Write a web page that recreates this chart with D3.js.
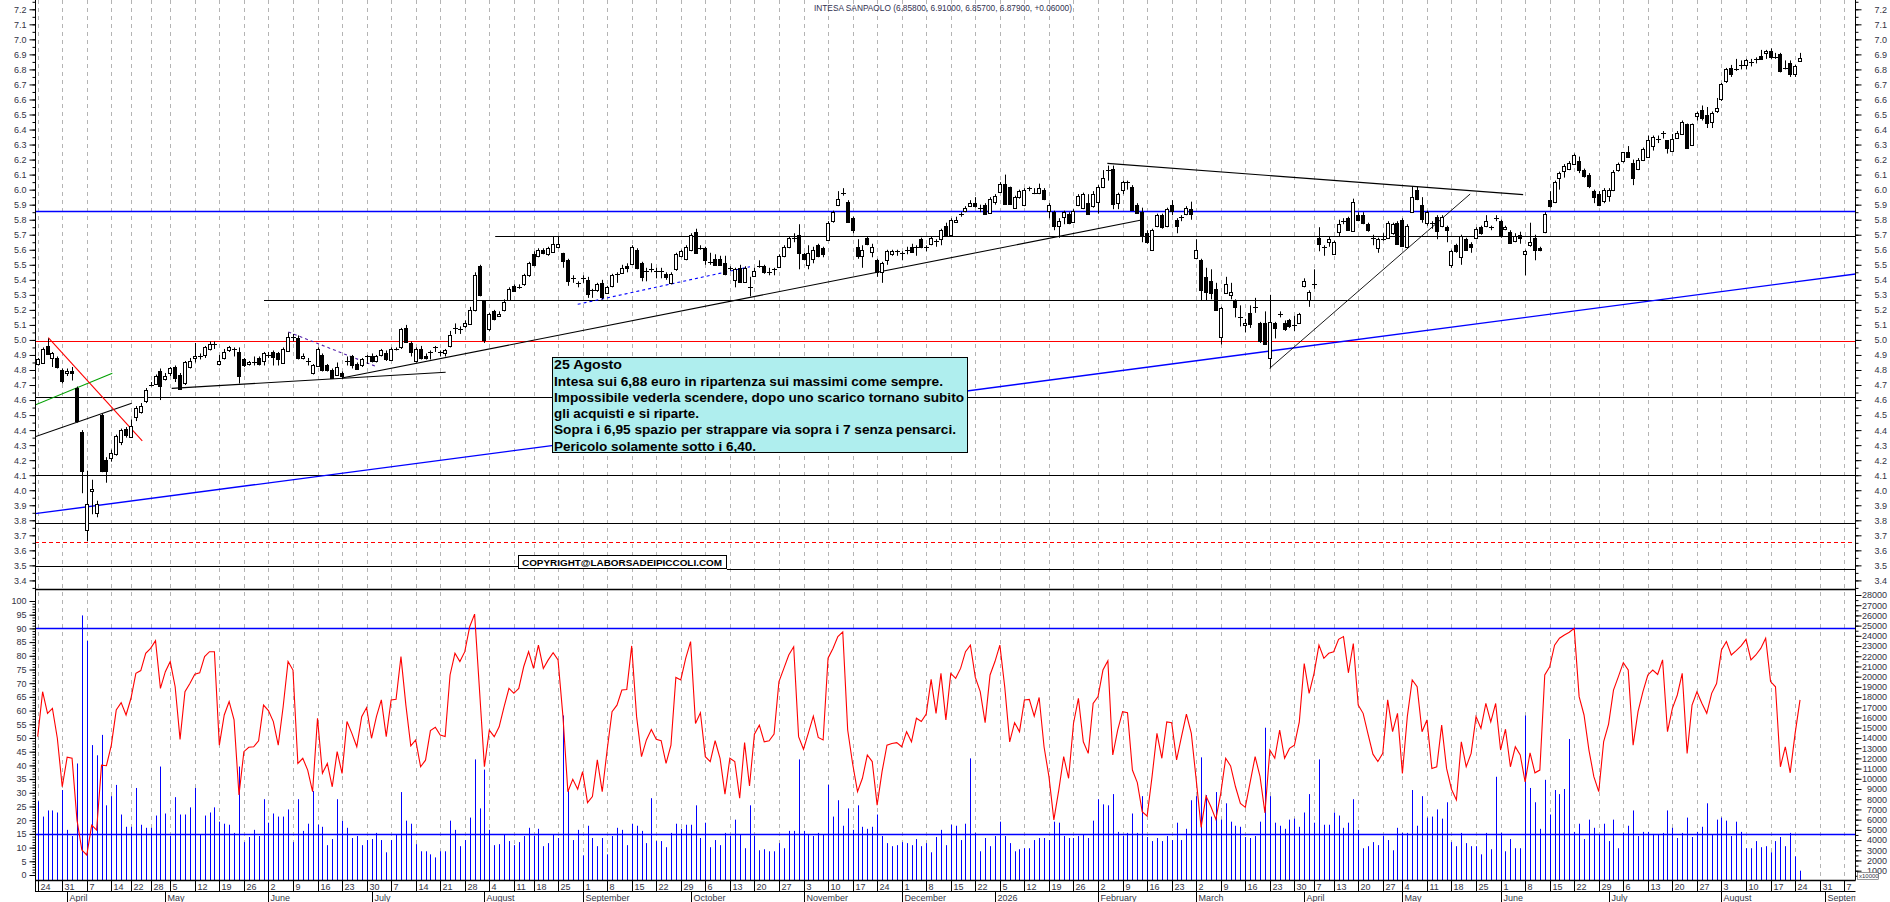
<!DOCTYPE html>
<html><head><meta charset="utf-8"><title>INTESA SANPAOLO</title>
<script src="https://cdn.jsdelivr.net/npm/d3@7/dist/d3.min.js"></script>
<style>html,body{margin:0;padding:0;background:#fff;}svg{display:block;}</style>
</head><body>
<svg id="chart" width="1890" height="902"></svg>
<script>
// ================= DATA =================
const firstDay = "2025-03-24";
const lastAxisDay = "2026-09-08";
const holidays = ["2025-04-18","2025-04-21","2025-05-01","2025-08-15","2025-12-24","2025-12-25","2025-12-26","2025-12-31","2026-01-01","2026-04-03","2026-04-06","2026-05-01"];
const monthNames = ["January","February","March","April","May","June","July","August","September","October","November","December"];
const priceTicks = [3.4,3.5,3.6,3.7,3.8,3.9,4.0,4.1,4.2,4.3,4.4,4.5,4.6,4.7,4.8,4.9,5.0,5.1,5.2,5.3,5.4,5.5,5.6,5.7,5.8,5.9,6.0,6.1,6.2,6.3,6.4,6.5,6.6,6.7,6.8,6.9,7.0,7.1,7.2];
const oscTicks = [0,5,10,15,20,25,30,35,40,45,50,55,60,65,70,75,80,85,90,95,100];
const volTicks = [1,2,3,4,5,6,7,8,9,10,11,12,13,14,15,16,17,18,19,20,21,22,23,24,25,26,27,28]; // x1000

const open = [
4.84,4.85,4.96,4.88,4.88,4.80,4.78,4.79,4.68,4.39,
3.74,4.00,3.85,4.50,4.20,4.22,4.24,4.32,4.41,4.36,
4.49,4.52,4.60,4.70,4.71,4.79,4.74,4.78,4.82,4.77,
4.71,4.82,4.88,4.89,4.90,4.94,4.97,4.84,4.88,4.93,
4.94,4.92,4.87,4.84,4.85,4.88,4.86,4.90,4.92,4.91,
4.85,4.93,5.02,5.01,4.88,4.86,4.78,4.83,4.90,4.83,
4.80,4.77,4.78,4.86,4.89,4.84,4.83,4.89,4.89,4.86,
4.90,4.91,4.87,4.94,4.95,5.08,4.98,4.86,4.94,4.89,
4.92,4.95,4.92,4.91,4.96,5.08,5.07,5.09,5.11,5.20,
5.49,5.26,5.07,5.19,5.16,5.20,5.27,5.36,5.35,5.37,
5.43,5.57,5.56,5.60,5.57,5.59,5.62,5.58,5.53,5.41,
5.38,5.41,5.40,5.33,5.33,5.38,5.31,5.36,5.44,5.45,
5.49,5.51,5.60,5.51,5.46,5.47,5.46,5.46,5.44,5.38,
5.47,5.56,5.54,5.60,5.72,5.61,5.61,5.52,5.54,5.54,
5.51,5.48,5.40,5.48,5.39,5.35,5.43,5.49,5.49,5.45,
5.47,5.49,5.56,5.62,5.68,5.70,5.57,5.50,5.54,5.63,
5.61,5.67,5.79,5.90,5.98,5.92,5.81,5.62,5.56,5.68,
5.59,5.53,5.45,5.53,5.57,5.59,5.58,5.60,5.62,5.62,
5.67,5.62,5.64,5.66,5.67,5.76,5.70,5.79,5.84,5.86,
5.89,5.91,5.88,5.90,5.85,5.92,5.99,6.04,6.02,5.88,
5.95,5.90,6.01,5.98,5.98,6.00,5.86,5.85,5.76,5.82,
5.84,5.79,5.90,5.88,5.91,5.89,5.92,6.02,6.13,6.14,
5.91,6.00,6.05,6.02,5.90,5.85,5.71,5.60,5.76,5.83,
5.76,5.90,5.80,5.82,5.84,5.87,5.55,5.53,5.42,5.39,
5.34,5.02,5.31,5.30,5.26,5.15,5.10,5.18,5.22,5.11,
5.11,4.88,5.11,5.17,5.11,5.13,5.10,5.11,5.36,5.27,
5.37,5.68,5.62,5.65,5.57,5.72,5.79,5.81,5.73,5.83,
5.83,5.77,5.68,5.61,5.67,5.68,5.71,5.78,5.80,5.62,
5.85,6.00,5.90,5.78,5.78,5.82,5.76,5.75,5.50,5.63,
5.55,5.67,5.64,5.68,5.75,5.76,5.75,5.81,5.79,5.74,
5.72,5.66,5.70,5.57,5.63,5.68,5.61,5.72,5.93,5.92,
6.08,6.13,6.14,6.17,6.19,6.13,6.10,5.99,5.97,5.93,
5.96,6.00,6.13,6.19,6.25,6.18,6.14,6.20,6.22,6.29,
6.34,6.38,6.33,6.26,6.35,6.37,6.44,6.30,6.49,6.53,
6.50,6.45,6.52,6.60,6.72,6.81,6.80,6.83,6.83,6.85,
6.87,6.89,6.91,6.92,6.88,6.90,6.81,6.84,6.77,6.858];
const high = [
4.88,4.95,5.01,4.92,4.89,4.81,4.81,4.82,4.69,4.40,
4.13,4.07,3.93,4.51,4.22,4.27,4.37,4.41,4.42,4.47,
4.56,4.58,4.68,4.72,4.77,4.81,4.78,4.82,4.83,4.78,
4.86,4.88,4.98,4.91,4.96,4.99,4.99,4.90,4.94,4.96,
4.95,4.95,4.88,4.86,4.89,4.89,4.92,4.92,4.93,4.92,
4.95,5.05,5.04,5.03,4.91,4.88,4.84,4.95,4.91,4.84,
4.81,4.85,4.79,4.89,4.90,4.85,4.88,4.90,4.91,4.90,
4.94,4.93,4.95,4.95,5.08,5.10,4.99,4.95,4.96,4.91,
4.93,4.96,4.93,4.94,5.06,5.11,5.09,5.13,5.22,5.45,
5.50,5.26,5.18,5.20,5.19,5.27,5.35,5.37,5.37,5.44,
5.52,5.59,5.61,5.61,5.62,5.69,5.69,5.58,5.54,5.43,
5.39,5.43,5.42,5.34,5.38,5.40,5.36,5.44,5.45,5.50,
5.51,5.63,5.61,5.52,5.48,5.51,5.48,5.48,5.45,5.45,
5.58,5.60,5.63,5.71,5.74,5.63,5.62,5.58,5.57,5.56,
5.56,5.49,5.48,5.50,5.49,5.42,5.48,5.53,5.50,5.48,
5.48,5.57,5.63,5.69,5.71,5.77,5.58,5.63,5.62,5.64,
5.62,5.79,5.86,5.99,6.01,5.93,5.82,5.67,5.63,5.69,
5.64,5.54,5.52,5.60,5.60,5.60,5.59,5.62,5.64,5.63,
5.68,5.63,5.69,5.67,5.74,5.78,5.81,5.82,5.85,5.89,
5.93,5.95,5.90,5.91,5.95,5.97,6.05,6.10,6.02,5.96,
6.00,6.01,6.02,6.01,6.04,6.01,5.91,5.86,5.81,5.86,
5.85,5.87,5.97,5.98,5.97,5.99,6.03,6.13,6.16,6.16,
5.98,6.06,6.06,6.03,5.91,5.88,5.73,5.74,5.84,5.84,
5.88,5.93,5.81,5.83,5.89,5.92,5.67,5.54,5.48,5.47,
5.38,5.22,5.42,5.38,5.27,5.23,5.14,5.23,5.28,5.12,
5.19,5.30,5.12,5.19,5.13,5.14,5.16,5.18,5.41,5.33,
5.47,5.75,5.63,5.69,5.66,5.80,5.81,5.82,5.94,5.85,
5.85,5.78,5.70,5.68,5.71,5.79,5.78,5.79,5.81,5.77,
6.02,6.02,5.95,5.86,5.79,5.83,5.83,5.76,5.60,5.64,
5.70,5.68,5.65,5.75,5.76,5.83,5.76,5.83,5.80,5.76,
5.73,5.71,5.72,5.60,5.78,5.70,5.62,5.85,5.99,6.06,
6.12,6.17,6.19,6.24,6.22,6.14,6.11,6.00,5.99,6.01,
6.01,6.13,6.18,6.25,6.29,6.20,6.21,6.28,6.36,6.36,
6.36,6.39,6.33,6.37,6.39,6.46,6.44,6.44,6.52,6.56,
6.55,6.52,6.61,6.71,6.81,6.83,6.87,6.86,6.87,6.87,
6.88,6.93,6.93,6.94,6.91,6.91,6.86,6.86,6.83,6.91];
const low = [
4.83,4.84,4.90,4.82,4.81,4.71,4.76,4.73,4.45,3.98,
3.66,3.84,3.82,4.12,4.05,4.19,4.23,4.30,4.35,4.35,
4.46,4.51,4.58,4.69,4.71,4.60,4.73,4.76,4.72,4.67,
4.70,4.81,4.85,4.87,4.88,4.93,4.94,4.83,4.87,4.92,
4.89,4.71,4.82,4.83,4.83,4.83,4.83,4.88,4.83,4.83,
4.84,4.92,4.99,4.87,4.87,4.83,4.77,4.82,4.79,4.79,
4.74,4.76,4.74,4.83,4.81,4.80,4.82,4.84,4.85,4.85,
4.89,4.86,4.86,4.93,4.94,4.98,4.89,4.85,4.87,4.87,
4.87,4.92,4.89,4.89,4.95,5.04,5.04,5.08,5.10,5.19,
5.29,4.98,5.06,5.13,5.16,5.19,5.26,5.32,5.34,5.36,
5.42,5.49,5.55,5.57,5.56,5.58,5.61,5.48,5.36,5.38,
5.35,5.38,5.28,5.28,5.32,5.27,5.31,5.35,5.38,5.44,
5.45,5.50,5.47,5.39,5.39,5.45,5.41,5.41,5.40,5.37,
5.46,5.55,5.53,5.59,5.58,5.60,5.50,5.50,5.50,5.50,
5.43,5.46,5.35,5.38,5.38,5.29,5.42,5.48,5.44,5.43,
5.43,5.48,5.55,5.61,5.65,5.47,5.53,5.47,5.51,5.55,
5.55,5.66,5.78,5.89,5.96,5.78,5.71,5.54,5.48,5.63,
5.55,5.42,5.38,5.50,5.56,5.56,5.53,5.57,5.58,5.56,
5.61,5.59,5.63,5.62,5.63,5.69,5.69,5.78,5.82,5.85,
5.89,5.88,5.85,5.84,5.84,5.90,5.98,5.91,5.90,5.88,
5.94,5.89,5.99,5.97,5.97,5.93,5.81,5.73,5.68,5.77,
5.77,5.78,5.89,5.87,5.84,5.88,5.84,6.01,6.06,5.87,
5.87,5.97,6.00,5.86,5.84,5.65,5.64,5.60,5.75,5.74,
5.75,5.83,5.71,5.79,5.83,5.80,5.55,5.26,5.26,5.27,
5.20,4.97,5.31,5.27,5.15,5.09,5.05,5.08,5.18,4.98,
4.97,4.81,5.01,5.15,5.06,5.08,5.06,5.11,5.35,5.22,
5.34,5.59,5.56,5.62,5.57,5.69,5.77,5.73,5.73,5.79,
5.77,5.72,5.63,5.58,5.66,5.68,5.70,5.64,5.62,5.62,
5.85,5.93,5.78,5.76,5.74,5.67,5.75,5.65,5.48,5.58,
5.50,5.60,5.58,5.67,5.70,5.75,5.73,5.79,5.68,5.73,
5.65,5.65,5.64,5.43,5.62,5.53,5.59,5.71,5.88,5.91,
6.00,6.08,6.13,6.17,6.11,6.08,6.01,5.91,5.89,5.91,
5.92,5.99,6.12,6.18,6.22,6.03,6.13,6.19,6.22,6.26,
6.31,6.34,6.24,6.26,6.34,6.37,6.28,6.30,6.46,6.46,
6.41,6.41,6.51,6.59,6.71,6.75,6.79,6.80,6.80,6.82,
6.84,6.87,6.87,6.87,6.87,6.78,6.80,6.75,6.75,6.857];
const close = [
4.87,4.94,4.91,4.91,4.82,4.73,4.79,4.78,4.46,4.13,
3.91,4.01,3.91,4.13,4.13,4.25,4.36,4.40,4.37,4.43,
4.55,4.56,4.67,4.70,4.76,4.69,4.76,4.81,4.75,4.68,
4.85,4.86,4.89,4.89,4.95,4.97,4.97,4.86,4.92,4.95,
4.94,4.76,4.83,4.85,4.85,4.84,4.91,4.90,4.89,4.87,
4.94,5.02,5.02,4.88,4.89,4.86,4.83,4.94,4.80,4.80,
4.75,4.82,4.76,4.86,4.83,4.81,4.87,4.89,4.86,4.89,
4.93,4.87,4.94,4.94,5.07,4.99,4.92,4.94,4.88,4.88,
4.92,4.95,4.92,4.93,5.03,5.08,5.07,5.11,5.20,5.43,
5.30,5.00,5.17,5.14,5.17,5.25,5.34,5.33,5.35,5.43,
5.51,5.50,5.60,5.58,5.61,5.64,5.64,5.53,5.39,5.41,
5.38,5.41,5.31,5.33,5.37,5.29,5.35,5.43,5.44,5.48,
5.48,5.62,5.48,5.42,5.46,5.47,5.46,5.46,5.42,5.44,
5.57,5.59,5.62,5.70,5.58,5.61,5.53,5.52,5.50,5.50,
5.44,5.48,5.47,5.39,5.48,5.35,5.46,5.49,5.45,5.45,
5.47,5.56,5.62,5.68,5.68,5.58,5.54,5.58,5.60,5.56,
5.57,5.78,5.85,5.94,5.98,5.79,5.73,5.56,5.60,5.64,
5.62,5.45,5.51,5.59,5.59,5.59,5.58,5.60,5.59,5.62,
5.62,5.62,5.68,5.66,5.73,5.70,5.80,5.80,5.84,5.88,
5.91,5.89,5.88,5.84,5.94,5.96,6.04,5.91,5.91,5.95,
5.99,6.00,6.01,5.98,6.01,5.94,5.90,5.76,5.79,5.85,
5.78,5.86,5.96,5.97,5.84,5.97,6.02,6.08,6.13,5.91,
5.97,6.05,6.05,5.87,5.85,5.70,5.65,5.73,5.83,5.75,
5.87,5.86,5.76,5.82,5.88,5.84,5.60,5.33,5.32,5.31,
5.20,5.21,5.37,5.32,5.22,5.15,5.11,5.11,5.22,4.99,
4.97,5.12,5.08,5.17,5.07,5.09,5.10,5.17,5.39,5.32,
5.37,5.64,5.62,5.67,5.65,5.77,5.79,5.73,5.92,5.80,
5.78,5.73,5.68,5.67,5.67,5.78,5.77,5.64,5.63,5.76,
5.95,5.94,5.81,5.85,5.78,5.73,5.82,5.73,5.59,5.59,
5.69,5.60,5.62,5.74,5.71,5.79,5.75,5.81,5.70,5.75,
5.65,5.69,5.68,5.59,5.65,5.60,5.60,5.84,5.89,6.05,
6.11,6.16,6.18,6.23,6.13,6.09,6.03,5.95,5.90,6.00,
6.00,6.12,6.17,6.25,6.22,6.08,6.20,6.27,6.33,6.35,
6.34,6.38,6.28,6.34,6.38,6.45,6.28,6.44,6.51,6.48,
6.45,6.51,6.54,6.70,6.80,6.77,6.80,6.83,6.86,6.85,
6.87,6.87,6.92,6.88,6.88,6.79,6.81,6.77,6.82,6.879];
const osc = [
50.5,66.9,59.0,60.8,49.9,32.2,43.0,42.6,20.1,9.1,
7.3,18.2,16.4,40.1,39.9,47.4,60.2,62.9,58.4,64.5,
73.6,74.6,80.9,82.7,85.5,68.1,74.2,77.9,68.7,49.5,
66.9,69.9,73.3,73.8,79.7,81.5,81.5,47.4,58.4,63.3,
56.6,29.2,45.0,46.6,46.8,49.0,62.0,60.0,56.0,47.4,
61.4,77.9,74.8,40.7,42.6,38.3,30.4,57.2,37.1,40.7,
32.2,45.0,37.1,56.0,51.7,46.8,57.8,61.1,49.9,57.8,
63.9,50.5,63.9,64.1,79.7,62.0,47.1,49.3,39.5,41.9,
52.7,53.9,51.1,50.5,73.0,80.9,77.9,81.5,90.6,95.2,
67.5,39.5,52.9,50.5,54.1,61.4,68.1,66.3,68.1,76.0,
81.5,75.4,83.9,75.4,78.5,81.1,78.5,57.8,30.4,34.9,
31.3,37.7,26.4,28.6,42.0,30.4,45.6,59.6,62.0,67.5,
67.7,83.6,57.8,43.2,49.3,53.1,49.5,49.0,40.7,47.4,
72.1,71.2,79.1,85.2,55.3,59.2,43.2,41.4,49.0,42.6,
29.5,42.6,41.4,28.0,48.3,32.5,51.4,54.7,48.6,49.0,
51.4,70.6,75.4,80.3,83.3,50.5,45.9,51.9,58.0,50.2,
49.3,79.1,82.7,87.0,88.7,52.9,40.7,30.4,35.3,43.8,
41.4,25.5,37.7,47.4,48.0,48.3,46.8,52.3,48.6,57.2,
56.0,58.7,71.4,59.0,73.6,56.6,73.6,71.8,75.4,81.5,
83.9,72.1,66.9,55.6,73.0,77.9,83.9,68.5,48.6,55.6,
52.3,63.9,64.1,58.0,64.8,46.8,35.9,20.1,31.0,43.2,
35.3,55.3,64.5,48.6,44.4,62.6,65.1,74.8,78.2,43.8,
52.9,59.6,59.2,38.3,33.7,23.1,21.5,35.9,51.7,42.6,
55.9,55.6,42.0,50.5,58.7,51.7,34.7,17.4,28.8,24.9,
20.3,29.8,42.6,39.8,32.2,26.1,24.7,34.0,43.2,35.9,
22.7,45.6,42.6,52.9,42.6,46.2,47.4,55.9,77.2,66.3,
73.6,83.9,79.1,80.9,81.5,86.0,87.0,73.8,84.5,62.0,
59.0,51.4,44.1,41.4,44.4,63.9,52.3,59.0,37.1,57.8,
71.2,68.7,52.3,56.6,38.9,39.5,54.7,38.9,31.3,27.4,
48.6,39.5,44.4,57.8,53.5,62.6,55.9,62.6,45.6,53.2,
39.5,46.8,43.8,34.0,44.6,37.3,38.3,73.0,76.0,83.9,
86.4,87.6,88.6,90.0,65.1,58.4,45.6,35.9,30.4,48.7,
55.1,67.5,72.4,77.5,74.8,47.4,59.6,66.9,73.0,74.8,
73.2,78.5,52.3,60.8,65.7,73.6,44.4,62.0,66.9,62.7,
59.0,66.3,69.9,82.1,85.2,80.3,81.9,83.6,86.0,78.5,
80.3,82.7,86.4,70.6,68.7,39.5,46.8,37.3,51.7,63.9];
const volume = [ // in thousands (right axis, x10000)
7.8,6.3,6.9,6.9,6.7,8.9,5.0,4.4,11.5,26.0,
23.5,13.3,12.3,14.3,7.4,8.3,9.4,6.5,5.3,5.3,
9.1,5.5,5.2,5.2,6.4,11.2,6.6,4.4,8.2,6.5,
6.5,7.2,9.1,4.5,6.4,6.7,7.2,5.8,5.6,5.5,
4.7,11.2,3.8,4.3,5.0,4.4,8.0,5.7,6.6,6.3,
6.3,7.0,3.8,8.0,4.9,5.6,8.8,5.5,5.3,3.5,
4.1,8.0,5.9,5.2,4.2,4.4,3.5,4.0,4.1,4.7,
4.0,2.8,4.0,4.5,8.7,5.9,5.6,3.6,2.9,2.9,
2.6,2.3,2.9,2.9,5.9,5.0,3.4,4.0,6.2,11.9,
7.1,10.9,5.0,3.5,3.6,4.5,3.9,3.5,3.8,4.4,
5.2,4.4,5.1,3.4,3.7,4.5,4.2,16.2,8.8,4.0,
5.0,2.5,5.4,4.2,3.4,4.2,2.6,4.4,5.2,5.0,
3.5,5.6,5.4,4.9,3.7,8.1,3.9,3.9,3.3,4.7,
5.6,5.1,5.5,5.5,7.4,4.2,5.7,3.3,4.0,3.5,
4.7,4.4,6.0,4.5,3.2,7.4,4.4,3.0,3.1,2.9,
2.9,3.7,3.2,4.9,4.9,11.9,4.9,4.5,4.4,4.7,
4.5,9.4,6.3,7.9,5.4,7.1,5.0,7.4,5.3,5.1,
5.3,6.5,4.4,3.7,3.4,3.5,3.8,3.7,3.5,4.1,
3.4,3.7,2.8,4.3,5.0,3.5,5.5,5.4,4.0,5.6,
12.0,4.7,2.9,4.2,3.4,4.4,5.8,4.4,3.7,2.9,
3.1,3.2,3.2,4.0,4.2,4.2,4.0,5.8,5.7,4.4,
4.2,4.2,4.4,4.5,4.2,5.9,8.0,7.5,7.4,8.5,
4.8,4.4,4.7,6.6,4.7,8.3,4.3,3.9,4.2,3.9,
4.4,4.0,5.7,4.0,5.1,7.9,8.3,12.1,8.4,6.3,
8.7,6.0,7.6,5.8,5.4,5.3,4.3,4.2,4.4,5.8,
15.0,8.3,5.7,5.4,5.1,6.0,6.1,5.3,6.7,8.5,
5.7,11.9,5.5,5.5,6.7,6.4,5.2,5.7,8.0,5.0,
3.2,3.4,3.8,3.5,4.4,4.0,3.0,5.2,4.7,4.7,
8.9,5.4,8.3,6.2,6.3,7.0,6.1,7.7,3.8,3.4,
4.7,3.7,3.4,3.4,2.6,4.7,3.1,10.2,4.7,2.9,
4.1,3.2,3.2,16.2,9.1,7.7,5.1,9.9,6.5,8.9,
8.5,9.0,13.9,4.8,5.6,4.1,6.0,5.2,4.5,5.6,
3.9,6.0,3.2,4.7,5.4,6.9,4.4,4.8,4.8,4.6,
4.5,4.7,6.9,5.2,4.2,4.7,6.2,4.3,4.8,5.3,
7.6,4.5,6.0,6.2,5.9,4.4,5.8,4.8,3.2,3.2,
3.9,3.3,3.4,2.8,3.9,4.3,3.4,4.7,2.4,1.0];

// horizontal levels: [price, fromIndex, toIndex]
const levelLines = [
 [4.996,-0.55,370.3],[5.861,-0.55,370.3],[5.69,93.2,370.3],[5.264,46.1,370.3],
 [4.618,-0.55,370.3],[4.102,-0.55,370.3],[3.780,-0.55,370.3],[3.654,-0.55,370.3],
 [3.497,-0.55,97.9],[3.474,140.4,370.3]];
const levelStyle = ["red","blue","black","black","black","black","black","reddash","black","black"];
// trend lines: [i0, p0, i1, p1]
const trendLines = [
 [-0.55,3.844,370.3,5.439],
 [-0.55,4.356,19.15,4.579],
 [-0.55,4.567,15.2,4.778],
 [2.16,5.015,21.3,4.328],
 [27.3,4.678,83.1,4.785],
 [62.2,4.748,224.6,5.796],
 [217.9,6.175,302.6,5.967],
 [250.95,4.811,291.8,5.971],
 [110.0,5.237,145.1,5.487],
 [51.05,5.053,69.06,4.822]];
const trendStyle = ["blue","black","green","red","black","black","black","thin","bluedash","purpledash"];
const oscLevels = [90, 15];

const titleText = "INTESA SANPAOLO (6.85800, 6.91000, 6.85700, 6.87900, +0.06000)";
const noteLines = [
 "25 Agosto",
 "Intesa sui 6,88 euro in ripartenza sui massimi come sempre.",
 "Impossibile vederla scendere, dopo uno scarico tornano subito",
 "gli acquisti e si riparte.",
 "Sopra i 6,95 spazio per strappare via sopra i 7 senza pensarci.",
 "Pericolo solamente sotto i 6,40."];
const copyrightText = "COPYRIGHT@LABORSADEIPICCOLI.COM";

// ================= DRAWING =================
const F = "'Liberation Sans', Arial, Helvetica, sans-serif";
const TXT = "#333344";
const svg = d3.select("#chart");
const XL = 35, XR = 1855.5;
const x = d3.scaleLinear().domain([-0.55, 370.3]).range([XL, XR]);
const yP = d3.scaleLinear().domain([3.4, 7.2]).range([580.4, 9.3]);
const yO = d3.scaleLinear().domain([0, 100]).range([875, 601]);
const yV = d3.scaleLinear().domain([0, 28]).range([880.9, 595]);
const px = i => Math.round(x(i)) + 0.5;
const crisp = v => Math.round(v) + 0.5;

svg.append("rect").attr("width",1890).attr("height",902).attr("fill","#fff");

const defs = svg.append("defs");
defs.append("clipPath").attr("id","clipTop").append("rect").attr("x",XL).attr("y",0).attr("width",XR-XL).attr("height",589);
defs.append("clipPath").attr("id","clipAll").append("rect").attr("x",XL).attr("y",0).attr("width",XR-XL).attr("height",902);

// calendar
const fmt = d3.utcFormat("%Y-%m-%d"), parse = d3.utcParse("%Y-%m-%d");
const hol = new Set(holidays);
const days = d3.utcDays(parse(firstDay), d3.utcDay.offset(parse(lastAxisDay),1))
  .filter(d => d.getUTCDay() % 6 !== 0 && !hol.has(fmt(d)));
const weekTicks = [], monthTicks = [];
let lastShown = -99;
days.forEach((d,i) => {
  const p = days[i-1];
  if (i === 0 || +d3.utcMonday.floor(d) !== +d3.utcMonday.floor(p)) {
    if (i - lastShown >= 3) { weekTicks.push(i); lastShown = i; }
  }
  if (i > 0 && d.getUTCMonth() !== p.getUTCMonth()) monthTicks.push(i);
});

// vertical dashed grid
svg.append("g").selectAll("line").data(weekTicks).join("line")
  .attr("x1",i=>px(i)).attr("x2",i=>px(i)).attr("y1",0).attr("y2",880)
  .attr("stroke","#b4b4b4").attr("stroke-width",1).attr("stroke-dasharray","4,4");

// level lines
const lvlColor = {red:"#ff0000",blue:"#0000ff",black:"#000",reddash:"#ff0000"};
const gTop = svg.append("g").attr("clip-path","url(#clipTop)");
gTop.selectAll("line.lvl").data(levelLines).join("line").attr("class","lvl")
  .attr("x1",d=>x(d[1])).attr("x2",d=>x(d[2]))
  .attr("y1",d=>crisp(yP(d[0]))).attr("y2",d=>crisp(yP(d[0])))
  .attr("stroke",(d,k)=>lvlColor[levelStyle[k]])
  .attr("stroke-width",(d,k)=>levelStyle[k]==="blue"?1.3:1)
  .attr("stroke-dasharray",(d,k)=>levelStyle[k]==="reddash"?"4,3":null);

// trend lines
const trColor = {blue:"#0000ff",black:"#000",green:"#00a000",red:"#ff0000",thin:"#000",bluedash:"#0000ff",purpledash:"#5522aa"};
gTop.selectAll("line.tr").data(trendLines).join("line").attr("class","tr")
  .attr("x1",d=>x(d[0])).attr("y1",d=>yP(d[1])).attr("x2",d=>x(d[2])).attr("y2",d=>yP(d[3]))
  .attr("stroke",(d,k)=>trColor[trendStyle[k]])
  .attr("stroke-width",(d,k)=>trendStyle[k]==="blue"?1.4:(trendStyle[k]==="thin"?0.9:1.1))
  .attr("stroke-dasharray",(d,k)=>trendStyle[k].endsWith("dash")?"3,3":null);

// candles
const idx = d3.range(close.length);
const gC = svg.append("g");
gC.selectAll("line.wick").data(idx).join("line").attr("class","wick")
  .attr("x1",px).attr("x2",px).attr("y1",i=>yP(high[i])).attr("y2",i=>yP(low[i]))
  .attr("stroke","#000").attr("stroke-width",1);
const bodies = idx.filter(i => Math.abs(yP(open[i]) - yP(close[i])) >= 1.5);
const dojis = idx.filter(i => Math.abs(yP(open[i]) - yP(close[i])) < 1.5);
gC.selectAll("rect.body").data(bodies).join("rect").attr("class","body")
  .attr("x",i=>px(i)-2).attr("width",3)
  .attr("y",i=>crisp(yP(Math.max(open[i],close[i]))))
  .attr("height",i=>Math.max(1,Math.round(yP(Math.min(open[i],close[i]))-yP(Math.max(open[i],close[i])))))
  .attr("fill",i=>close[i]>=open[i]?"#fff":"#000").attr("stroke","#000").attr("stroke-width",1);
gC.selectAll("line.doji").data(dojis).join("line").attr("class","doji")
  .attr("x1",i=>px(i)-2.5).attr("x2",i=>px(i)+2.5)
  .attr("y1",i=>crisp(yP(close[i]))).attr("y2",i=>crisp(yP(close[i])))
  .attr("stroke","#000").attr("stroke-width",1);

// annotation box
const note = svg.append("g");
note.append("rect").attr("x",552.5).attr("y",357.5).attr("width",415).attr("height",95)
  .attr("fill","#afeeee").attr("stroke","#000").attr("stroke-width",1);
const noteY = [368.7,385.7,402.3,418,434,450.7];
const noteW = [68,389,410,145,402,202];
note.selectAll("text").data(noteLines).join("text")
  .attr("x",554).attr("y",(d,k)=>noteY[k]).text(d=>d)
  .attr("font-family",F).attr("font-weight","bold").attr("font-size",13.5).attr("fill","#000")
  .attr("textLength",(d,k)=>noteW[k]).attr("lengthAdjust","spacingAndGlyphs");

// copyright box
const cp = svg.append("g");
cp.append("rect").attr("x",518.5).attr("y",555.5).attr("width",208).attr("height",13)
  .attr("fill","#fff").attr("stroke","#000").attr("stroke-width",1);
cp.append("text").attr("x",522).attr("y",565.5).text(copyrightText)
  .attr("font-family",F).attr("font-weight","bold").attr("font-size",9).attr("fill","#000")
  .attr("textLength",200).attr("lengthAdjust","spacingAndGlyphs");

// title
svg.append("text").attr("x",943).attr("y",11).attr("text-anchor","middle").text(titleText)
  .attr("font-family",F).attr("font-size",8.5).attr("fill","#303050")
  .attr("textLength",258).attr("lengthAdjust","spacingAndGlyphs");

// lower panel
const gL = svg.append("g");
gL.selectAll("line.olv").data(oscLevels).join("line").attr("class","olv")
  .attr("x1",XL).attr("x2",XR).attr("y1",d=>crisp(yO(d))).attr("y2",d=>crisp(yO(d)))
  .attr("stroke","#0000ff").attr("stroke-width",1.5);
gL.selectAll("line.vol").data(idx).join("line").attr("class","vol")
  .attr("x1",px).attr("x2",px).attr("y1",yV(0)).attr("y2",i=>yV(volume[i]))
  .attr("stroke","#0000ff").attr("stroke-width",1);
gL.append("path").datum(idx)
  .attr("d",d3.line().x(i=>x(i)).y(i=>yO(osc[i])))
  .attr("fill","none").attr("stroke","#ff0000").attr("stroke-width",1.1);

// frame lines
const frame = svg.append("g").attr("stroke","#000").attr("stroke-width",1);
frame.append("line").attr("x1",35.5).attr("x2",35.5).attr("y1",0).attr("y2",891);
frame.append("line").attr("x1",XR).attr("x2",XR).attr("y1",0).attr("y2",880.5);
frame.append("line").attr("x1",XL).attr("x2",XR).attr("y1",589.5).attr("y2",589.5).attr("stroke-width",1.3);
frame.append("line").attr("x1",XL).attr("x2",XR).attr("y1",880.5).attr("y2",880.5).attr("stroke-width",1.3);
frame.append("line").attr("x1",XL).attr("x2",XR).attr("y1",891.5).attr("y2",891.5);

// axes
function styleAxis(g, rightAligned) {
  g.select(".domain").remove();
  g.attr("font-family",F).attr("font-size",9);
  g.selectAll("line").attr("stroke","#000");
  g.selectAll("text").attr("fill",TXT);
  if (rightAligned) g.selectAll("text").attr("text-anchor","end").attr("x",31.5);
}
const fmt1 = d3.format(".1f");
const minorP = d3.range(3.35, 7.26, 0.05).filter(v => v <= 7.25);
const minorO = d3.range(0, 101, 1);
const minorV = d3.range(0.5, 28.01, 0.5);
// left price
svg.append("g").attr("transform","translate(35.5,0)")
  .call(d3.axisLeft(yP).tickValues(minorP).tickFormat("").tickSize(3).tickSizeOuter(0)).call(g=>styleAxis(g));
svg.append("g").attr("transform","translate(35.5,0)")
  .call(d3.axisLeft(yP).tickValues(priceTicks).tickFormat(fmt1).tickSize(6).tickSizeOuter(0)).call(g=>styleAxis(g));
// right price
svg.append("g").attr("transform",`translate(${XR},0)`)
  .call(d3.axisRight(yP).tickValues(minorP).tickFormat("").tickSize(3).tickSizeOuter(0)).call(g=>styleAxis(g));
svg.append("g").attr("transform",`translate(${XR},0)`)
  .call(d3.axisRight(yP).tickValues(priceTicks).tickFormat(fmt1).tickSize(6).tickSizeOuter(0)).call(g=>styleAxis(g,true));
// left oscillator
svg.append("g").attr("transform","translate(35.5,0)")
  .call(d3.axisLeft(yO).tickValues(minorO).tickFormat("").tickSize(3).tickSizeOuter(0)).call(g=>styleAxis(g));
svg.append("g").attr("transform","translate(35.5,0)")
  .call(d3.axisLeft(yO).tickValues(oscTicks).tickFormat(d3.format("d")).tickSize(6).tickSizeOuter(0)).call(g=>styleAxis(g));
// right volume
svg.append("g").attr("transform",`translate(${XR},0)`)
  .call(d3.axisRight(yV).tickValues(minorV).tickFormat("").tickSize(3).tickSizeOuter(0)).call(g=>styleAxis(g));
svg.append("g").attr("transform",`translate(${XR},0)`)
  .call(d3.axisRight(yV).tickValues(volTicks).tickFormat(d=>d3.format("d")(d*1000)).tickSize(6).tickSizeOuter(0)).call(g=>styleAxis(g,true));
// x10000 tag
svg.append("rect").attr("x",1857.5).attr("y",872.5).attr("width",21).attr("height",7)
  .attr("fill","#fff").attr("stroke","#555").attr("stroke-width",0.6);
svg.append("text").attr("x",1859).attr("y",878.3).text("x10000")
  .attr("font-family",F).attr("font-size",6).attr("fill",TXT);

// date axis
const gX = svg.append("g").attr("clip-path","url(#clipAll)");
gX.selectAll("line.wt").data(weekTicks).join("line").attr("class","wt")
  .attr("x1",px).attr("x2",px).attr("y1",880).attr("y2",891).attr("stroke","#000");
gX.selectAll("text.wt").data(weekTicks).join("text").attr("class","wt")
  .attr("x",i=>px(i)+2).attr("y",889.5).text(i=>days[i].getUTCDate())
  .attr("font-family",F).attr("font-size",9).attr("fill",TXT);
gX.selectAll("line.mt").data(monthTicks).join("line").attr("class","mt")
  .attr("x1",px).attr("x2",px).attr("y1",891).attr("y2",902).attr("stroke","#000");
gX.selectAll("text.mt").data(monthTicks).join("text").attr("class","mt")
  .attr("x",i=>px(i)+2).attr("y",900.5)
  .text(i=>days[i].getUTCMonth()===0 ? String(days[i].getUTCFullYear()) : monthNames[days[i].getUTCMonth()])
  .attr("font-family",F).attr("font-size",9).attr("fill",TXT);
</script>
</body></html>
